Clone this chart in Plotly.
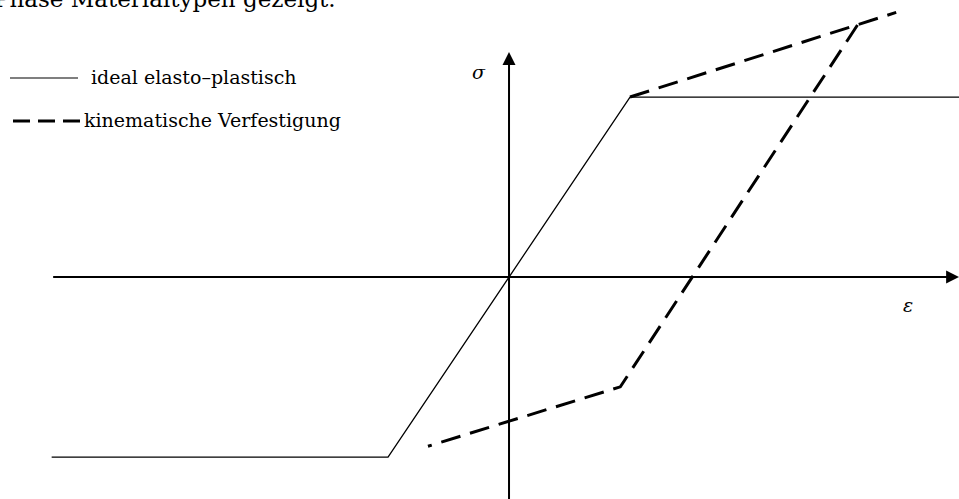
import plotly.graph_objects as go

# Stress-strain paths (strain normalised to yield strain, stress to yield stress)
ideal_eps = [-3.78, -1.0, 0.0, 1.0, 3.75]
ideal_sig = [-1.0, -1.0, 0.0, 1.0, 1.0]

# kinematic hardening: hardening line, then unloading + reverse plastic flow
kin_eps = [1.0, 2.88, 3.2, None, 2.88, 0.92, -0.67]
kin_sig = [1.0, 1.40, 1.47, None, 1.40, -0.61, -0.94]

legend_labels = ["ideal elasto\u2013plastisch", "kinematische Verfestigung"]

W, H = 959, 499
x_rng = [-4.207, 3.719]
y_rng = [-1.233, 1.539]

fig = go.Figure()
fig.add_trace(go.Scatter(x=ideal_eps, y=ideal_sig, mode="lines",
                         line=dict(color="black", width=1.3),
                         hoverinfo="skip"))
fig.add_trace(go.Scatter(x=kin_eps, y=kin_sig, mode="lines",
                         line=dict(color="black", width=3, dash="20px,10px"),
                         connectgaps=False, hoverinfo="skip"))

serif = "DejaVu Serif"

# coordinate axes with arrow heads
fig.add_annotation(x=3.72, y=0, ax=-3.78, ay=0, xref="x", yref="y",
                   axref="x", ayref="y", text="", showarrow=True,
                   arrowhead=2, arrowsize=1.3, arrowwidth=2, arrowcolor="black",
                   standoff=0, startstandoff=0)
fig.add_annotation(x=0, y=1.25, ax=0, ay=-1.4, xref="x", yref="y",
                   axref="x", ayref="y", text="", showarrow=True,
                   arrowhead=2, arrowsize=1.3, arrowwidth=2, arrowcolor="black",
                   standoff=0, startstandoff=0)

fig.add_annotation(x=-0.25, y=1.14, xref="x", yref="y", text="<i>\u03c3</i>",
                   showarrow=False, font=dict(family=serif, size=19, color="black"))
fig.add_annotation(x=3.30, y=-0.156, xref="x", yref="y", text="<i>\u03b5</i>",
                   showarrow=False, font=dict(family=serif, size=19, color="black"))

# hand-drawn legend
def px(x):
    return x / W

def py(y):
    return 1 - y / H

fig.add_shape(type="line", xref="paper", yref="paper",
              x0=px(10), x1=px(78), y0=py(78), y1=py(78),
              line=dict(color="black", width=1.2))
fig.add_shape(type="line", xref="paper", yref="paper",
              x0=px(13), x1=px(80), y0=py(121), y1=py(121),
              line=dict(color="black", width=3, dash="17px,8px"))
fig.add_annotation(x=px(89), y=py(77), xref="paper", yref="paper",
                   text=legend_labels[0], showarrow=False, xanchor="left",
                   yanchor="middle", font=dict(family=serif, size=19, color="black"))
fig.add_annotation(x=px(82), y=py(120), xref="paper", yref="paper",
                   text=legend_labels[1], showarrow=False, xanchor="left",
                   yanchor="middle", font=dict(family=serif, size=19, color="black"))

# running text line above the figure (clipped at the top)
fig.add_annotation(x=px(338), y=py(-1), xref="paper", yref="paper",
                   text="Phase Materialtypen gezeigt.", showarrow=False,
                   xanchor="right", yanchor="middle",
                   font=dict(family=serif, size=23, color="black"))

fig.update_layout(
    width=W, height=H,
    margin=dict(l=0, r=0, t=0, b=0),
    paper_bgcolor="white", plot_bgcolor="white",
    showlegend=False,
    xaxis=dict(range=x_rng, visible=False, fixedrange=True),
    yaxis=dict(range=y_rng, visible=False, fixedrange=True),
)

fig.write_html("out.html")
